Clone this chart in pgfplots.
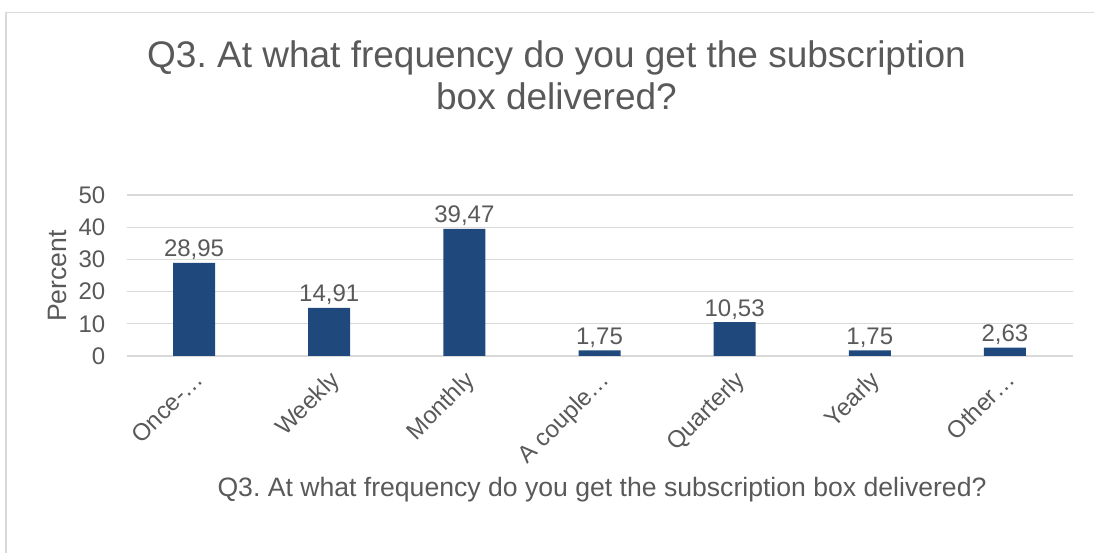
\documentclass[border=0pt]{standalone}
\usepackage{pgfplots}
\pgfplotsset{compat=1.18}
\usepackage{fontspec}
\setmainfont{Liberation Sans}
\frenchspacing
\definecolor{txtc}{HTML}{595959}
\definecolor{gridc}{HTML}{D9D9D9}
\definecolor{barc}{HTML}{1F497D}
\begin{document}
\begin{tikzpicture}
\useasboundingbox (0pt,0pt) rectangle (1094pt,553pt);
\draw[gridc, line width=1.5pt] (6pt,-5pt) -- (6pt,540.5pt) -- (1100pt,540.5pt);
\node[anchor=base, text=txtc, font=\fontsize{37}{42}\selectfont] at (556.5pt,485pt) {Q3. At what frequency do you get the subscription};
\node[anchor=base, text=txtc, font=\fontsize{37}{42}\selectfont] at (556.5pt,443pt) {box delivered?};
\node[anchor=base, text=txtc, font=\fontsize{26.6}{30}\selectfont] at (602pt,56pt) {Q3. At what frequency do you get the subscription box delivered?};
\node[rotate=90, text=txtc, font=\fontsize{26.6}{30}\selectfont] at (57pt,277pt) {Percent};
\begin{axis}[
  at={(126.5pt,197pt)}, anchor=south west,
  scale only axis, width=946pt, height=161pt,
  xmin=-0.5, xmax=6.5, ymin=0, ymax=50,
  ytick={0,10,20,30,40,50},
  xtick={0,1,2,3,4,5,6},
  xticklabels={Once-…,Weekly,Monthly,A couple…,Quarterly,Yearly,Other…},
  axis line style={draw=none},
  major tick length=0pt,
  ymajorgrids=true, xmajorgrids=false,
  major grid style={draw=gridc, line width=1.2pt},
  /pgf/number format/assume math mode=true,
  ticklabel style={text=txtc, font=\fontsize{24}{28}\selectfont},
  yticklabel style={anchor=east, inner sep=0pt, xshift=-21pt},
  xticklabel style={rotate=45, anchor=north east, inner sep=0pt, xshift=-9.9pt, yshift=-8.5pt},
  nodes near coords,
  nodes near coords style={text=txtc, font=\fontsize{24}{28}\selectfont, anchor=base, inner sep=0pt, yshift=6pt,
    /pgf/number format/.cd, fixed, fixed zerofill, precision=2, use comma, assume math mode=true},
]
\addplot[ybar, bar width=42pt, fill=barc, draw=none] coordinates {
  (0,28.95) (1,14.91) (2,39.47) (3,1.75) (4,10.53) (5,1.75) (6,2.63)};
\end{axis}
\end{tikzpicture}
\end{document}
